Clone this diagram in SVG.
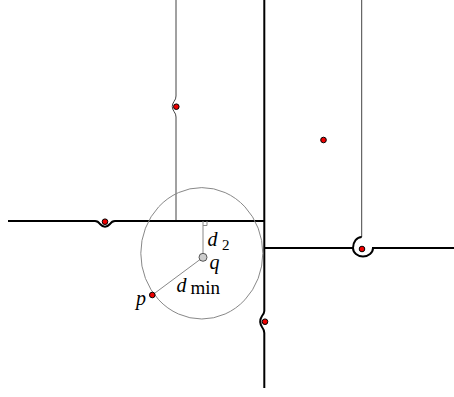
<svg xmlns="http://www.w3.org/2000/svg" width="454" height="397" viewBox="0 0 454 397">
<style>
.thick{fill:none;stroke:#000;stroke-width:2}
.thin{fill:none;stroke:#444;stroke-width:1}
.aux{fill:none;stroke:#888;stroke-width:1}
.site{fill:#e00;stroke:#000;stroke-width:1}
.lab{font-family:"Liberation Serif",serif;font-style:italic;font-size:20px;fill:#000}
.sub{font-family:"Liberation Serif",serif;font-size:15px;fill:#000}
</style>
<rect width="454" height="397" fill="#fff"/>
<g id="connectors">
<path class="thin" d="M176 0 V96 Q176 99 174 101.5 Q170.5 106.5 174 111.5 Q176 114 176 117 V221"/>
<path class="thick" d="M8 221 H95 Q98 221 100 224 Q105 229.5 110 224 Q112 221 115 221 H264"/>
<path class="thick" d="M264.3 0 V311 Q264.3 313 262 316 Q258.5 321.5 262 327 Q264.3 330 264.3 333 V388"/>
<path class="thin" d="M361.7 0 V237"/>
<path class="thick" d="M264 248 H353 A10 8.5 0 0 0 373 248 H454"/>
<path class="thick" d="M361.7 237 A8.7 11 0 0 0 353 248"/>
</g>
<g id="circle">
<ellipse class="aux" cx="201.8" cy="253.3" rx="61" ry="65.7"/>
<line class="aux" x1="203" y1="257.3" x2="203" y2="221"/>
<path class="aux" d="M203 225.5 H207 V221"/>
<line class="aux" x1="203" y1="257.3" x2="152.3" y2="295"/>
</g>
<g id="q">
<circle cx="203" cy="257.3" r="4" fill="#ccc" stroke="#333" stroke-width="0.8"/>
<text class="lab" x="209.5" y="268.5">q</text>
</g>
<g id="p">
<circle class="site" cx="152.3" cy="295" r="2.8"/>
<text class="lab" x="136" y="305">p</text>
</g>
<g id="labels">
<text class="lab" x="207.5" y="246">d</text>
<text class="sub" x="222" y="250">2</text>
<text class="lab" x="176.5" y="292">d</text>
<text class="sub" x="190.5" y="294" style="font-size:19px">min</text>
</g>
<g id="s1"><circle class="site" cx="176.3" cy="106.7" r="2.8"/></g>
<g id="s2"><circle class="site" cx="105" cy="221.7" r="2.8"/></g>
<g id="s3"><circle class="site" cx="265" cy="321.7" r="2.8"/></g>
<g id="s4"><circle class="site" cx="362" cy="249" r="2.8"/></g>
<g id="s5"><circle class="site" cx="323.5" cy="140" r="2.8"/></g>
</svg>
